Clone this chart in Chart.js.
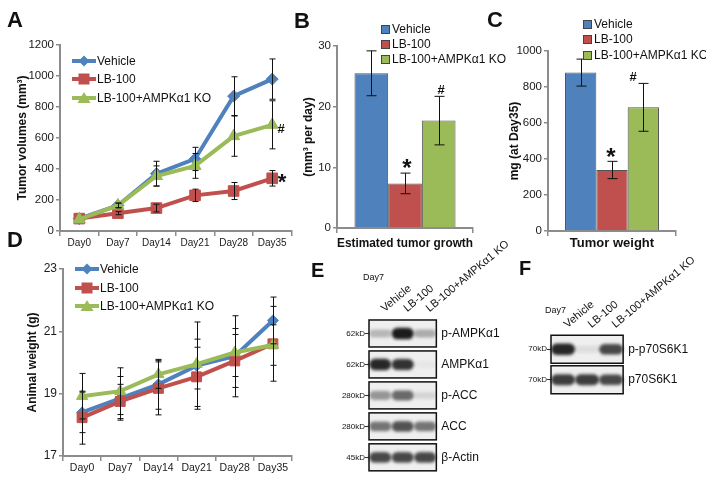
<!DOCTYPE html>
<html>
<head>
<meta charset="utf-8">
<script src="https://cdn.jsdelivr.net/npm/chart.js@4.4.1/dist/chart.umd.min.js"></script>
<style>
  body { margin: 0; width: 706px; height: 485px; position: relative; overflow: hidden; background: #fff;
         font-family: "Liberation Sans", Arial, sans-serif; color: #111; }
  canvas { position: absolute; }
  .lt { position: absolute; font-weight: bold; font-size: 22px; line-height: 22px; }
  .lg { position: absolute; font-size: 12px; line-height: 14px; white-space: nowrap; display: flex; align-items: center; }
  .sq { display: inline-block; width: 7px; height: 7px; border: 1px solid #444; margin-right: 2px; }
  .mk { position: absolute; font-weight: bold; line-height: 1; transform: translate(-50%, -50%); }
  .sm { position: absolute; font-size: 9px; line-height: 10px; }
</style>
</head>
<body>
<canvas id="cA" width="300" height="225" style="left:0;top:30px"></canvas>
<canvas id="cB" width="200" height="225" style="left:285px;top:30px"></canvas>
<canvas id="cC" width="216" height="225" style="left:490px;top:30px"></canvas>
<canvas id="cD" width="300" height="230" style="left:0;top:255px"></canvas>
<canvas id="cE" width="220" height="250" style="left:300px;top:235px"></canvas>
<canvas id="cF" width="186" height="170" style="left:520px;top:240px"></canvas>

<div class="lt" style="left:7px;top:9px">A</div>
<div class="lt" style="left:294px;top:10px">B</div>
<div class="lt" style="left:487px;top:9px">C</div>
<div class="lt" style="left:7px;top:229px">D</div>
<div class="lt" style="left:311px;top:259px;font-size:20px">E</div>
<div class="lt" style="left:519px;top:257px;font-size:20px">F</div>

<div class="sm" style="left:363px;top:272px">Day7</div>
<div class="sm" style="left:545px;top:305px">Day7</div>

<div class="mk" style="left:281px;top:128px;font-size:13px">#</div>
<div class="mk" style="left:282px;top:182px;font-size:22px">*</div>
<div class="mk" style="left:407px;top:168px;font-size:24px">*</div>
<div class="mk" style="left:441px;top:89px;font-size:13px">#</div>
<div class="mk" style="left:611px;top:157px;font-size:24px">*</div>
<div class="mk" style="left:633px;top:76px;font-size:13px">#</div>

<script>
// Groupes et couleurs
const groups = ['Vehicle', 'LB-100', 'LB-100+AMPKα1 KO'];
const days = ['Day0', 'Day7', 'Day14', 'Day21', 'Day28', 'Day35'];
const BLUE = '#4F81BD', RED = '#C0504D', GREEN = '#9BBB59';
const COLORS = [BLUE, RED, GREEN];
const AXIS = '#8c8c8c';

// A : volume tumoral (mm3)
const volVehicle = [80, 165, 370, 465, 870, 980];
const volVehicleErr = [0, 15, 80, 75, 125, 130];
const volLB = [80, 115, 148, 230, 258, 340];
const volLBErr = [0, 10, 25, 40, 55, 50];
const volKO = [75, 165, 355, 420, 612, 685];
const volKOErr = [0, 15, 65, 80, 130, 155];

// D : poids des animaux (g)
const wVehicle = [18.4, 18.85, 19.3, 19.9, 20.2, 21.35];
const wVehicleErr = [0.65, 0.7, 0.8, 1.4, 1.3, 0.75];
const wLB = [18.23, 18.75, 19.17, 19.54, 20.05, 20.6];
const wLBErr = [0.85, 0.55, 0.85, 0.95, 0.85, 1.2];
const wKO = [18.92, 19.08, 19.62, 19.95, 20.32, 20.56];
const wKOErr = [0.73, 0.75, 0.45, 0.8, 0.77, 0.65];

// B : croissance estimée (mm3 par jour)
const growth = [25.5, 7.35, 17.7];
const growthErr = [3.7, 1.7, 4.0];

// C : poids tumoral à J35 (mg)
const weight = [880, 339, 687];
const weightErr = [75, 48, 133];

// E / F : westerns (intensité des bandes 0..1)
const eProteins = ['p-AMPKα1', 'AMPKα1', 'p-ACC', 'ACC', 'β-Actin'];
const eMarkers = ['62kD', '62kD', '280kD', '280kD', '45kD'];
const eBands = [[0.25, 0.95, 0.3], [0.9, 0.85, 0.04], [0.4, 0.6, 0.12], [0.55, 0.7, 0.55], [0.75, 0.75, 0.75]];
const fProteins = ['p-p70S6K1', 'p70S6K1'];
const fMarkers = ['70kD', '70kD'];
const fBands = [[0.9, 0.08, 0.75], [0.8, 0.8, 0.75]];

Chart.defaults.font.family = '"Liberation Sans", Arial, sans-serif';
Chart.defaults.color = '#1a1a1a';
Chart.defaults.animation = false;
Chart.defaults.plugins.legend.display = false;
Chart.defaults.plugins.tooltip.enabled = false;

// Barres d'erreur (dessinées avec les échelles du graphique)
const errorBars = {
  id: 'errorBars',
  afterDatasetsDraw(chart, args, opts) {
    const ctx = chart.ctx;
    ctx.save();
    ctx.strokeStyle = '#111';
    ctx.lineWidth = 1;
    chart.data.datasets.forEach((ds, i) => {
      if (!ds.errors) return;
      const meta = chart.getDatasetMeta(i);
      const scale = chart.scales[meta.yAxisID];
      meta.data.forEach((el, j) => {
        const e = ds.errors[j];
        if (!e) return;
        const v = ds.data[j];
        const x = Math.round(el.x) + 0.5;
        const y1 = scale.getPixelForValue(v + e);
        const y2 = scale.getPixelForValue(v - e);
        ctx.beginPath();
        ctx.moveTo(x, y1); ctx.lineTo(x, y2);
        ctx.moveTo(x - opts.cap, y1); ctx.lineTo(x + opts.cap, y1);
        ctx.moveTo(x - opts.cap, y2); ctx.lineTo(x + opts.cap, y2);
        ctx.stroke();
      });
    });
    ctx.restore();
  }
};

function yAxis(min, max, step, title, w, titlePad, size) {
  return {
    min, max,
    ticks: { stepSize: step, font: { size }, color: '#1a1a1a', padding: 2, callback: v => String(v) },
    grid: { drawOnChartArea: false, color: AXIS, tickLength: 4, lineWidth: 1.5 },
    border: { color: AXIS, width: 2 },
    title: { display: true, text: title, font: { size: 12, weight: 'bold' }, color: '#111', padding: { top: titlePad, bottom: 0 } },
    afterFit(s) { s.width = w; }
  };
}

function xDays(h, size) {
  return {
    offset: true,
    grid: { offset: true, drawOnChartArea: false, color: AXIS, tickLength: 5, lineWidth: 1.5 },
    border: { color: AXIS, width: 2 },
    ticks: { font: { size }, color: '#1a1a1a', padding: 1, maxRotation: 0, autoSkip: false },
    afterFit(s) { s.height = h; }
  };
}

function lineSet(label, data, errors, color, style, radius, order) {
  return {
    label, data, errors, order,
    borderColor: color, backgroundColor: color, borderWidth: 4,
    pointStyle: style, pointRadius: radius, pointBorderWidth: 1, tension: 0
  };
}

// A
new Chart(document.getElementById('cA'), {
  type: 'line',
  data: {
    labels: days,
    datasets: [
      lineSet(groups[0], volVehicle, volVehicleErr, BLUE, 'rectRot', 6, 2),
      lineSet(groups[1], volLB, volLBErr, RED, 'rect', 7.5, 1),
      lineSet(groups[2], volKO, volKOErr, GREEN, 'triangle', 7, 0)
    ]
  },
  options: {
    responsive: false,
    layout: { padding: { top: 15, right: 8, bottom: 0, left: 0 } },
    scales: { x: xDays(24, 10), y: yAxis(0, 1200, 200, 'Tumor volumes (mm³)', 60, 15, 11.5) },
    plugins: { errorBars: { cap: 3 } }
  },
  plugins: [errorBars]
});

// D
new Chart(document.getElementById('cD'), {
  type: 'line',
  data: {
    labels: days,
    datasets: [
      lineSet(groups[0], wVehicle, wVehicleErr, BLUE, 'rectRot', 5.5, 2),
      lineSet(groups[1], wLB, wLBErr, RED, 'rect', 7, 1),
      lineSet(groups[2], wKO, wKOErr, GREEN, 'triangle', 6.5, 0)
    ]
  },
  options: {
    responsive: false,
    layout: { padding: { top: 14, right: 3, bottom: 0, left: 0 } },
    scales: { x: xDays(29, 10.5), y: yAxis(17, 23, 2, 'Animal weight (g)', 63, 25, 12) },
    plugins: { errorBars: { cap: 3 } }
  },
  plugins: [errorBars]
});

// B et C
function barChart(id, values, errs, yOpts, xTitle, pad, catPct) {
  return new Chart(document.getElementById(id), {
    type: 'bar',
    data: {
      labels: [''],
      datasets: groups.map((g, i) => ({
        label: g, data: [values[i]], errors: [errs[i]],
        backgroundColor: COLORS[i], borderColor: 'rgba(40,40,40,0.8)', borderWidth: 1,
        categoryPercentage: catPct, barPercentage: 1
      }))
    },
    options: {
      responsive: false,
      layout: { padding: pad },
      scales: {
        x: {
          grid: { offset: true, drawOnChartArea: false, color: AXIS, tickLength: 5, lineWidth: 1.5 },
          border: { color: AXIS, width: 2 },
          ticks: { display: false },
          title: { display: true, text: xTitle, font: { size: 13, weight: 'bold' }, color: '#111', padding: { top: 0, bottom: 4 } },
          afterFit(s) { s.height = pad.xh; }
        },
        y: yOpts
      },
      plugins: { errorBars: { cap: 5 } }
    },
    plugins: [errorBars]
  });
}

barChart('cB', growth, growthErr, yAxis(0, 30, 10, '(mm³ per day)', 52, 16, 11.5),
  'Estimated tumor growth', { top: 16, right: 12, bottom: 0, left: 0, xh: 27 }, 0.743);
barChart('cC', weight, weightErr, yAxis(0, 1000, 200, 'mg (at Day35)', 58, 17, 11.5),
  'Tumor weight', { top: 21, right: 30, bottom: 0, left: 0, xh: 24 }, 0.734);

// Westerns
const bandCache = {};
function bandImage(v, w, h) {
  const key = v + '_' + w + '_' + h;
  if (bandCache[key]) return bandCache[key];
  const c = document.createElement('canvas');
  c.width = w + 6; c.height = h + 6;
  const g = c.getContext('2d');
  g.filter = 'blur(1.4px)';
  g.fillStyle = 'rgba(15,15,15,' + Math.min(1, v) + ')';
  const bh = h * (0.55 + 0.45 * v);
  g.beginPath();
  g.roundRect(3, (c.height - bh) / 2, w, bh, bh / 2);
  g.fill();
  bandCache[key] = c;
  return c;
}

const blotBoxes = {
  id: 'blotBoxes',
  beforeDatasetsDraw(chart, args, opts) {
    const { ctx, chartArea, scales } = chart;
    ctx.save();
    ctx.fillStyle = '#efefef';
    scales.names.getLabels().forEach((p, i) => {
      const yc = scales.names.getPixelForValue(i);
      ctx.fillRect(chartArea.left, yc - opts.h / 2, chartArea.width, opts.h);
    });
    ctx.restore();
  },
  afterDatasetsDraw(chart, args, opts) {
    const { ctx, chartArea, scales } = chart;
    ctx.save();
    ctx.strokeStyle = '#111';
    ctx.lineWidth = 1.5;
    scales.names.getLabels().forEach((p, i) => {
      const yc = scales.names.getPixelForValue(i);
      ctx.strokeRect(chartArea.left, yc - opts.h / 2, chartArea.width, opts.h);
    });
    ctx.restore();
  }
};

function blotChart(id, proteins, markers, bands, leftW, rightW, topH, padBottom, boxH, bandW) {
  const pts = [];
  bands.forEach((row, r) => row.forEach((v, l) => pts.push({ x: groups[l], y: proteins[r], v })));
  return new Chart(document.getElementById(id), {
    type: 'scatter',
    data: {
      datasets: [{
        data: pts, xAxisID: 'lanes', yAxisID: 'names', pointRadius: 10,
        pointStyle: c => bandImage(c.raw ? c.raw.v : 0, bandW, 12)
      }]
    },
    options: {
      responsive: false,
      layout: { padding: { top: 0, right: 0, bottom: padBottom, left: 0 } },
      scales: {
        lanes: {
          type: 'category', labels: groups, position: 'top', offset: true,
          grid: { display: false, drawTicks: false }, border: { display: false },
          ticks: { font: { size: 11 }, color: '#111', minRotation: 40, maxRotation: 40, autoSkip: false, padding: 3, labelOffset: 11 },
          afterFit(s) { s.height = topH; }
        },
        kd: {
          type: 'category', labels: markers, position: 'left', offset: true,
          grid: { offset: false, drawOnChartArea: false, tickLength: 4, color: '#333', lineWidth: 1 },
          border: { display: false },
          ticks: { font: { size: 8 }, color: '#111', padding: 0 },
          afterFit(s) { s.width = leftW; }
        },
        names: {
          type: 'category', labels: proteins, position: 'right', offset: true,
          grid: { display: false, drawTicks: false }, border: { display: false },
          ticks: { font: { size: 12 }, color: '#111', padding: 5 },
          afterFit(s) { s.width = rightW; }
        }
      },
      plugins: { blotBoxes: { h: boxH } }
    },
    plugins: [blotBoxes]
  });
}

blotChart('cE', eProteins, eMarkers, eBands, 69, 71, 83, 1, 27, 22);
blotChart('cF', fProteins, fMarkers, fBands, 31, 71, 94, 15, 28, 24);

// Légendes
const shapes = ['rectRot', 'rect', 'triangle'];
function lineIcon(color, shape) {
  let mk = '';
  if (shape === 'rectRot') mk = '<polygon points="12,0.5 17.5,6 12,11.5 6.5,6" fill="' + color + '"/>';
  if (shape === 'rect') mk = '<rect x="6.5" y="0.5" width="11" height="11" fill="' + color + '"/>';
  if (shape === 'triangle') mk = '<polygon points="12,0 18.5,11 5.5,11" fill="' + color + '"/>';
  return '<svg width="24" height="12" style="margin-right:1px"><line x1="0" y1="6" x2="24" y2="6" stroke="' + color + '" stroke-width="4"/>' + mk + '</svg>';
}
function addLegend(x, ys, kind) {
  groups.forEach((g, i) => {
    const d = document.createElement('div');
    d.className = 'lg';
    d.style.left = x + 'px';
    d.style.top = (ys[i] - 7) + 'px';
    const icon = kind === 'line' ? lineIcon(COLORS[i], shapes[i])
      : '<span class="sq" style="background:' + COLORS[i] + '"></span>';
    d.innerHTML = icon + '<span>' + g + '</span>';
    document.body.appendChild(d);
  });
}
addLegend(72, [61, 79, 98], 'line');
addLegend(75, [269, 288, 306], 'line');
addLegend(381, [29, 44, 59], 'bar');
addLegend(583, [24, 39, 55], 'bar');
</script>
</body>
</html>
